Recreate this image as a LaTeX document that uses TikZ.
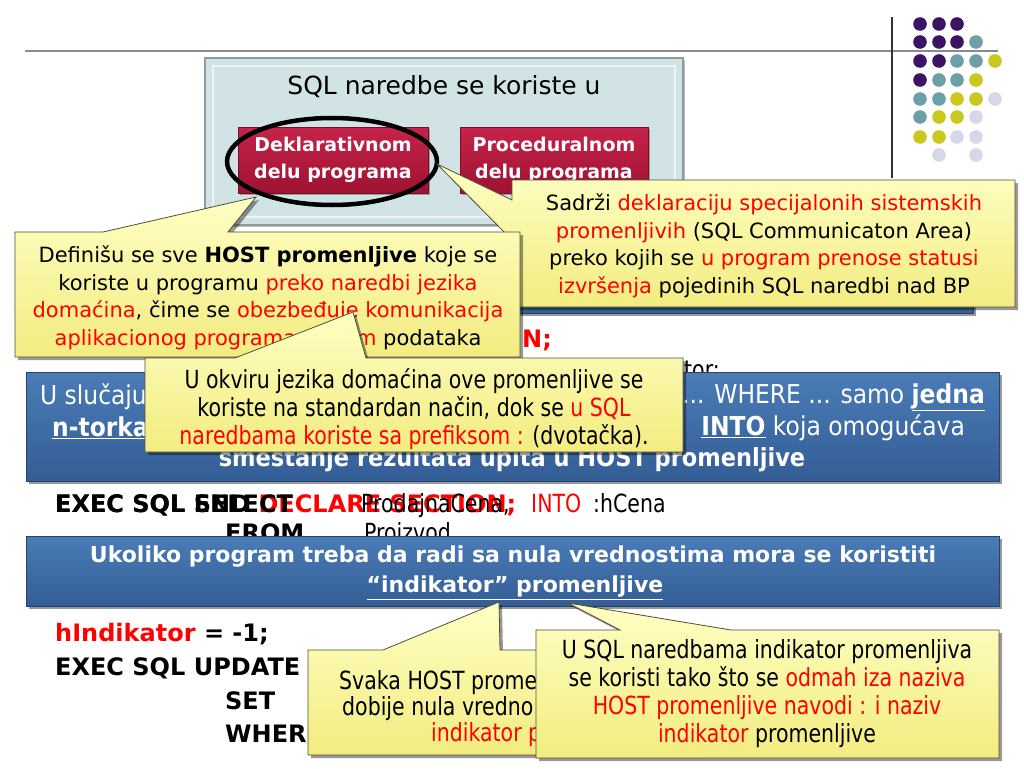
\documentclass[tikz,border=0pt]{standalone}
\usepackage{fontspec}
\setmainfont{DejaVu Sans}
\newfontfamily\cnd[FakeStretch=0.82]{DejaVu Sans}
\newfontfamily\cndw[FakeStretch=0.9]{DejaVu Sans}
\usetikzlibrary{shadows,shapes.geometric}
\definecolor{cyeltop}{HTML}{FFFFC4}
\definecolor{cyelbot}{HTML}{F2EC80}
\definecolor{cedge}{HTML}{4F4F36}
\definecolor{bbartop}{HTML}{4A7CB7}
\definecolor{bbarbot}{HTML}{345D95}
\definecolor{bedge}{HTML}{24446B}
\definecolor{rboxtop}{HTML}{C6234A}
\definecolor{rboxbot}{HTML}{9E1232}
\definecolor{redge}{HTML}{7A0E26}
\definecolor{tbox}{HTML}{D2E3E6}
\definecolor{tedge}{HTML}{8C9CA0}
\definecolor{dpur}{HTML}{3C1464}
\definecolor{dteal}{HTML}{6DA0A6}
\definecolor{dyel}{HTML}{C9C81E}
\definecolor{dlav}{HTML}{D7D7EA}
\definecolor{tred}{HTML}{FF0000}
\definecolor{lgray}{HTML}{8A8A8A}
\newcommand{\rd}[1]{\textcolor{tred}{#1}}
\begin{document}
\begin{tikzpicture}[x=1pt,y=-1pt,
  callout/.style={top color=cyeltop,bottom color=cyelbot,draw=cedge,line width=0.8pt,
    drop shadow={shadow xshift=3pt,shadow yshift=-3pt,fill=black,opacity=0.4}},
  bluebar/.style={top color=bbartop,bottom color=bbarbot,draw=bedge,line width=1pt,
    drop shadow={shadow xshift=3pt,shadow yshift=-3pt,fill=black,opacity=0.4}},
  redbox/.style={top color=rboxtop,bottom color=rboxbot,draw=redge,line width=0.8pt,
    drop shadow={shadow xshift=2pt,shadow yshift=-2pt,fill=black,opacity=0.3}},
  ctext/.style={font=\fontsize{21}{27.5}\selectfont,align=center,inner sep=0pt},
  ntext/.style={font=\cnd\fontsize{25}{28}\selectfont,align=center,inner sep=0pt},
  btext/.style={font=\cndw\fontsize{26}{31}\selectfont,text=white,inner sep=0pt},
  code/.style={font=\bfseries\fontsize{24}{28}\selectfont,inner sep=0pt,anchor=base west},
  ncode/.style={font=\cnd\fontsize{25}{28}\selectfont,inner sep=0pt,anchor=base west}]
\useasboundingbox (0,0) rectangle (1024,768);
\fill[white] (0,0) rectangle (1024,768);
% frame lines
\coordinate (hl1) at (25,51);
\coordinate (hl2) at (998,51);
\coordinate (vl1) at (892,17);
\coordinate (vl2) at (892,178);
\draw[lgray,line width=1.5pt] (hl1) -- (hl2);
\draw[black!80,line width=1.2pt] (vl1) -- (vl2);
% dots
\foreach \cx/\cy/\cc in {
  920/24/dpur,939/24/dpur,957/24/dpur,
  920/42/dpur,939/42/dpur,957/42/dpur,976/42/dteal,
  920/61/dpur,939/61/dpur,957/61/dteal,976/61/dteal,995/61/dyel,
  920/80/dpur,939/80/dteal,957/80/dteal,976/80/dyel,
  920/99/dteal,939/99/dteal,957/99/dyel,976/99/dyel,995/99/dlav,
  920/117/dteal,939/117/dyel,957/117/dyel,976/117/dlav,
  920/137/dyel,939/137/dyel,957/137/dlav,976/137/dlav,
  939/155/dlav,976/155/dlav}
  \fill[\cc] (\cx,\cy) circle[radius=6.8pt];
% top box
\path[fill=tbox,draw=tedge,line width=1.2pt,drop shadow={shadow xshift=2pt,shadow yshift=-2pt,fill=black,opacity=0.25}] (205,58) rectangle (683,225);
\draw[white!60!tbox,line width=1.2pt] (213,66) rectangle (675,217);
\node[font=\fontsize{25}{30}\selectfont,inner sep=0pt] (title) at (444,87) {SQL naredbe se koriste u};
\path[redbox] (238,127) rectangle (428,193);
\path[redbox] (460,127) rectangle (648,193);
\node[font=\bfseries\fontsize{19}{27}\selectfont,text=white,align=center,inner sep=0pt] (dekl) at (333,160) {Deklarativnom\\delu programa};
\node[font=\bfseries\fontsize{19}{27}\selectfont,text=white,align=center,inner sep=0pt] (proc) at (554,160) {Proceduralnom\\delu programa};
\draw[black,line width=4.5pt] (332,161.5) ellipse[x radius=105pt,y radius=43.5pt];
% hidden blue bar
\path[bluebar] (26,283) rectangle (973,313);
% right callout
\path[callout] (512,180) -- (1015,180) -- (1015,307) -- (512,307) -- (512,240) -- (437,164) -- (512,200) -- cycle;
\node[ctext] (sadrzi) at (764,246) {Sadrži \rd{deklaraciju specijalonih sistemskih}\\
  \rd{promenljivih} (SQL Communicaton Area)\\
  preko kojih se \rd{u program prenose statusi}\\
  \rd{izvršenja} pojedinih SQL naredbi nad BP};
% left callout
\path[callout] (15,232) -- (103,232) -- (256,197) -- (228,232) -- (520,232) -- (520,357) -- (15,357) -- cycle;
\node[ctext] (defin) at (268,298) {Definišu se sve \textbf{HOST promenljive} koje se\\
  koriste u programu \rd{preko naredbi jezika}\\
  \rd{domaćina}, čime se \rd{obezbeđuje komunikacija}\\
  \rd{aplikacionog programa}\hspace{60pt}\rd{m} podataka};
% code fragments behind
\node[code,text=tred] (nsemi) at (522,347) {N;};
\node[ncode] (torc) at (684,378) {tor:};
% blue bar B
\path[bluebar] (26,372) rectangle (999,481);
\node[btext,anchor=west] (b1l) at (40,397) {U slučaju};
\node[btext,anchor=east] (b1r) at (985,397) {... WHERE ... samo \textbf{\underline{jedna}}};
\node[btext,anchor=west] (b2l) at (52,428) {\textbf{\underline{n-torka}}};
\node[btext,anchor=east] (b2r) at (965,428) {\textbf{\underline{INTO}} koja omogućava};
\node[btext,font=\cndw\bfseries\fontsize{25}{31}\selectfont] (b3) at (512,460) {smestanje rezultata upita u HOST promenljive};
% U okviru callout
\path[callout] (145,358) -- (235,358) -- (353,312) -- (366,358) -- (683,358) -- (683,452) -- (145,452) -- cycle;
\node[ntext] (okviru) at (414,409) {U okviru jezika domaćina ove promenljive se\\
  koriste na standardan način, dok se \rd{u SQL}\\
  \rd{naredbama koriste sa prefiksom :} (dvotačka).};
% code lines
\node[code] (execa) at (55,512) {EXEC SQL END \rd{DECLARE SECTION;}};
\node[code] (execb) at (55,512) {EXEC SQL SELECT};
\node[ncode] (prodc) at (361,512) {ProdajnaCena,};
\node[ncode,text=tred] (intoa) at (531,512) {INTO};
\node[ncode] (hcena) at (593,512) {:hCena};
\node[code] (fromc) at (225,541) {FROM};
\node[ncode] (proiz) at (364,541) {Proizvod};
% blue bar C
\path[bluebar] (26,536) rectangle (999,606);
\node[font=\bfseries\fontsize{22}{31}\selectfont,text=white,inner sep=0pt] (c1) at (513,557) {Ukoliko program treba da radi sa nula vrednostima mora se koristiti};
\node[font=\bfseries\fontsize{22}{31}\selectfont,text=white,inner sep=0pt] (c2) at (515,588) {\underline{“indikator” promenljive}};
% bottom code
\node[code] (hind) at (55,641) {\rd{hIndikator} = -1;};
\node[code] (upd) at (55,675) {EXEC SQL UPDATE};
\node[code] (setc) at (225,709) {SET};
\node[code] (wher) at (225,742) {WHERE};
% Svaka callout
\path[callout] (308,650) -- (383,650) -- (499,602) -- (500,650) -- (700,650) -- (700,755) -- (308,755) -- cycle;
\node[ntext,anchor=west] (sv1) at (339,683) {Svaka HOST prome};
\node[ntext,anchor=west] (sv2) at (342,709) {dobije nula vredno};
\node[ntext,anchor=west,text=tred] (sv3) at (431,735) {indikator p};
% U SQL callout
\path[callout] (536,630) -- (620,630) -- (568,603) -- (731,630) -- (999,630) -- (999,758) -- (536,758) -- cycle;
\node[ntext] (usql) at (767,694) {U SQL naredbama indikator promenljiva\\
  se koristi tako što se \rd{odmah iza naziva}\\
  \rd{HOST promenljive navodi : i naziv}\\
  \rd{indikator} promenljive};
\end{tikzpicture}
\end{document}
